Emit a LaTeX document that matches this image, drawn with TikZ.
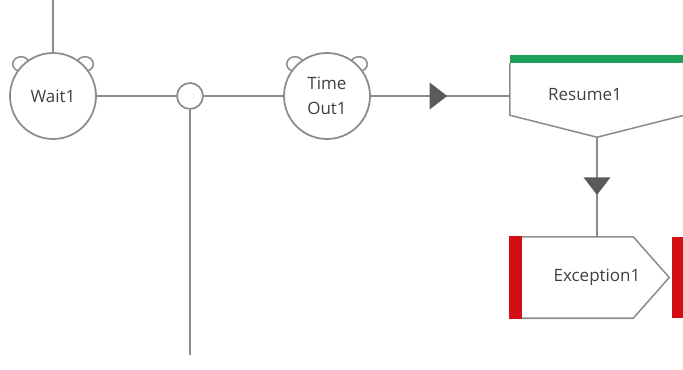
\documentclass[tikz,border=0pt]{standalone}
\usepackage{fontspec}
\setsansfont{Open Sans}
\usetikzlibrary{arrows.meta, calc, backgrounds, decorations.markings}
\definecolor{wire}{HTML}{8C8C8C}
\definecolor{tipgrey}{HTML}{5A5A5A}
\definecolor{txt}{HTML}{404040}
\definecolor{startgreen}{HTML}{1FA05A}
\definecolor{errred}{HTML}{D40F14}
\tikzset{
  font=\sffamily\fontsize{14.5}{21}\selectfont,
  event/.style={circle, draw=wire, line width=1.5pt, fill=white, text=txt, align=center,
                minimum size=2.58cm, inner sep=0pt},
  junction/.style={circle, draw=wire, line width=1.5pt, fill=white, minimum size=0.78cm, inner sep=0pt},
  ear/.style={draw=wire, line width=1.3pt, fill=white},
  blockbox/.style={rectangle, inner sep=0pt},
  outline/.style={draw=wire, line width=1.3pt, line join=miter},
  link/.style={draw=wire, line width=1.5pt},
  lbl/.style={text=txt, align=center},
  flowmark/.style={postaction={decorate}, decoration={markings,
      mark=at position #1 with {\arrow[tipgrey]{Triangle[length=0.53cm, width=0.8cm]}}}},
}

\begin{document}
\begin{tikzpicture}[x=0.03cm, y=-0.03cm]
\useasboundingbox (0,0) rectangle (683,370);
\clip (0,0) rectangle (683,370);

% --- events on the main line ---
\node[event]    (wait) at (53,96)  {Wait1};
\node[junction] (junc) at (190,96) {};
\node[event]    (tmo)  at (327,96) {Time\\ Out1};

% --- resume block ---
\node[blockbox, minimum width=5.22cm, minimum height=1.56cm] (resume) at (597,89) {};
\coordinate (rtip) at ($(resume.south)+(0,22)$);
\draw[outline] (resume.north west) -- (resume.south west) -- (rtip)
  -- (resume.south east) -- (resume.north east);
\fill[startgreen] (resume.north west) rectangle ($(resume.north east)+(0,-8)$);
\node[lbl] (resumelbl) at (585,95) {Resume1};

% --- exception block ---
\node[blockbox, lbl, minimum width=4.5cm, minimum height=2.43cm] (exc) at (597,277.5) {Exception1};
\draw[outline] (exc.north west) -- ($(exc.north east)+(-39,0)$) -- ($(exc.east)+(-3,0)$)
  -- ($(exc.south east)+(-39,0)$) -- (exc.south west);
\fill[errred] ($(exc.north west)+(-13,-1)$) rectangle ($(exc.south west)+(0,1)$);
\fill[errred] (exc.north east) rectangle ($(exc.south east)+(18,0)$);

% --- ears behind the event circles ---
\begin{scope}[on background layer]
  \foreach \ev in {wait, tmo} {
    \draw[ear] ($(\ev.center)!1.03!(\ev.135)$) ellipse [x radius=0.25cm, y radius=0.22cm];
    \draw[ear] ($(\ev.center)!1.03!(\ev.45)$)  ellipse [x radius=0.25cm, y radius=0.22cm];
  }
\end{scope}

% --- connectors ---
\coordinate (wtop) at (53,0);
\coordinate (jbot) at (190,355);
\draw[link] (wait) -- (wtop);
\draw[link] (wait) -- (junc);
\draw[link] (junc) -- (jbot);
\draw[link] (junc) -- (tmo);
\draw[link, flowmark=0.55] (tmo.east) -- (tmo.east -| resume.west);
\draw[link, flowmark=0.58] (rtip) -- (exc.north);

\end{tikzpicture}
\end{document}
